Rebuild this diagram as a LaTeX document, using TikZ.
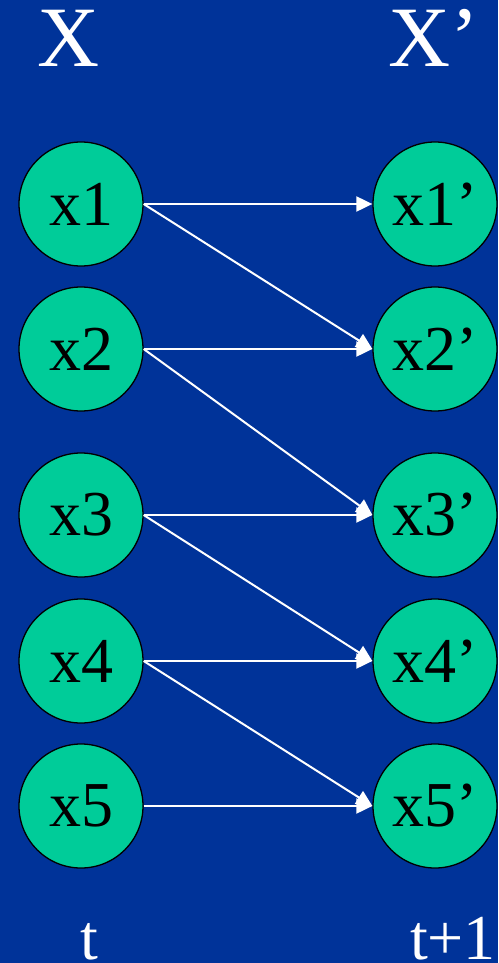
\documentclass[tikz,border=0pt]{standalone}
\usepackage{fontspec}
\setmainfont{Liberation Serif}
\usetikzlibrary{arrows.meta}
\definecolor{bgblue}{HTML}{003399}
\definecolor{nodegreen}{HTML}{00CC99}
\tikzset{
  var/.style={circle, draw=black, line width=1.3pt, fill=nodegreen, minimum size=124pt, inner sep=0pt, font=\fontsize{64}{64}\selectfont, text=black},
  lbl/.style={text=white, inner sep=0pt, anchor=base},
  big/.style={font=\fontsize{86}{86}\selectfont},
  mid/.style={font=\fontsize{64}{64}\selectfont},
  link/.style={draw=white, line width=2pt, -{Triangle[length=16pt,width=15pt]}, shorten >=0pt}
}
\begin{document}
\begin{tikzpicture}[x=1pt,y=-1pt]
\fill[bgblue] (0,0) rectangle (498,963);
\useasboundingbox (0,0) rectangle (498,963);
\node[lbl,big] (tX) at (69,67) {X};
\node[lbl,big] (tXp) at (434,67) {X’};
\node[lbl,mid] (tt) at (89,959) {t};
\node[lbl,mid] (tt1) at (453,959) {t+1};
\node[var] (a1) at (81,204) {x1};
\node[var] (a2) at (81,349) {x2};
\node[var] (a3) at (81,515) {x3};
\node[var] (a4) at (81,661) {x4};
\node[var] (a5) at (81,806) {x5};
\node[var] (b1) at (435,204) {x1’};
\node[var] (b2) at (435,349) {x2’};
\node[var] (b3) at (435,515) {x3’};
\node[var] (b4) at (435,661) {x4’};
\node[var] (b5) at (435,806) {x5’};
\draw[link] (a1.east) -- (b1.west);
\draw[link] (a1.east) -- (b2.west);
\draw[link] (a2.east) -- (b2.west);
\draw[link] (a2.east) -- (b3.west);
\draw[link] (a3.east) -- (b3.west);
\draw[link] (a3.east) -- (b4.west);
\draw[link] (a4.east) -- (b4.west);
\draw[link] (a4.east) -- (b5.west);
\draw[link] (a5.east) -- (b5.west);
\end{tikzpicture}
\end{document}
